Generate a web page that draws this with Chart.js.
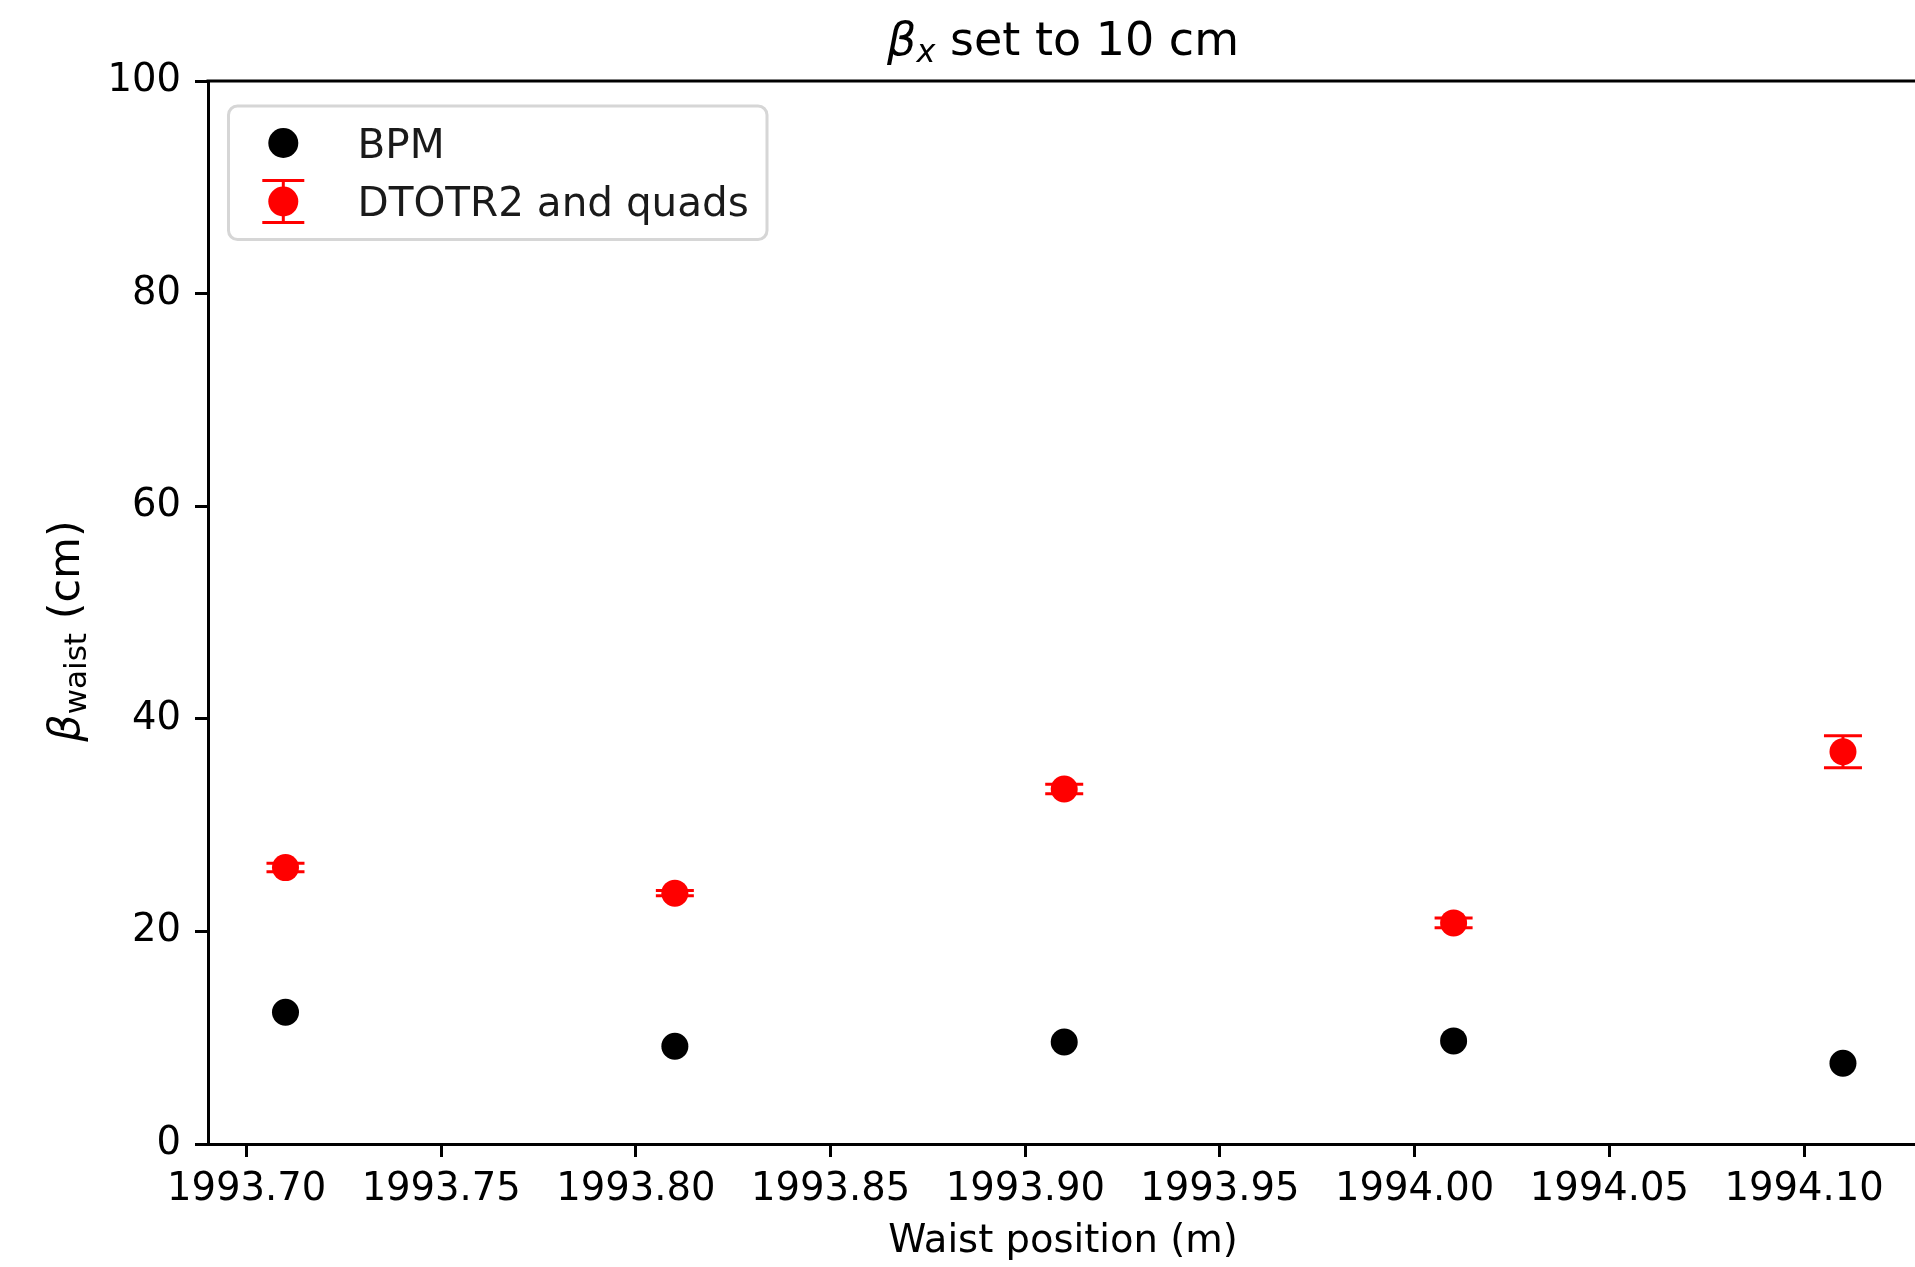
<!DOCTYPE html>
<html>
<head>
<meta charset="utf-8">
<script src="https://cdn.jsdelivr.net/npm/chart.js@4.4.1/dist/chart.umd.min.js"></script>
<style>
  html, body { margin: 0; padding: 0; background: #fff; }
  #wrap { width: 1915px; height: 1267px; }
</style>
</head>
<body>
<div id="wrap"><canvas id="waistChart" width="1915" height="1267"></canvas></div>
<script>
// waist position along the line (m)
var waistPos = [1993.71, 1993.81, 1993.91, 1994.01, 1994.11];
// beta at the waist (cm)
var bpmBeta = [12.4, 9.2, 9.6, 9.7, 7.6];
var otrBeta = [26.0, 23.6, 33.4, 20.8, 36.9];
var otrErr = [0.4, 0.25, 0.45, 0.45, 1.5];

var xTicks = [1993.70, 1993.75, 1993.80, 1993.85, 1993.90, 1993.95, 1994.00, 1994.05, 1994.10];
var yTicks = [0, 20, 40, 60, 80, 100];

var FAM = "'DejaVu Sans', sans-serif";

function toPoints(xs, ys) {
  return xs.map(function (x, i) { return { x: x, y: ys[i] }; });
}

// draw a row of text pieces with their own font / baseline shift
function drawRuns(ctx, runs, x, y) {
  runs.forEach(function (r) {
    ctx.font = r.font;
    ctx.fillText(r.text, x, y + (r.dy || 0));
    x += ctx.measureText(r.text).width;
  });
}
function runsWidth(ctx, runs) {
  var w = 0;
  runs.forEach(function (r) { ctx.font = r.font; w += ctx.measureText(r.text).width; });
  return w;
}

function errorGlyph(ctx, x, yTop, yBot, half, color) {
  ctx.save();
  ctx.strokeStyle = color;
  ctx.lineWidth = 3;
  ctx.beginPath();
  ctx.moveTo(x, yTop); ctx.lineTo(x, yBot);
  ctx.moveTo(x - half, yTop); ctx.lineTo(x + half, yTop);
  ctx.moveTo(x - half, yBot); ctx.lineTo(x + half, yBot);
  ctx.stroke();
  ctx.restore();
}

var decorations = {
  id: 'decorations',
  beforeDatasetsDraw: function (chart) {
    var ctx = chart.ctx, xs = chart.scales.x, ys = chart.scales.y;
    chart.data.datasets.forEach(function (ds) {
      if (!ds.errors) return;
      ds.data.forEach(function (p, i) {
        var px = xs.getPixelForValue(p.x);
        errorGlyph(ctx, px, ys.getPixelForValue(p.y + ds.errors[i]),
                   ys.getPixelForValue(p.y - ds.errors[i]), 19, ds.backgroundColor);
      });
    });
  },
  afterDraw: function (chart) {
    var ctx = chart.ctx, area = chart.chartArea;
    ctx.save();

    // top spine
    ctx.strokeStyle = '#000';
    ctx.lineWidth = 3;
    ctx.beginPath();
    ctx.moveTo(area.left - 1.5, area.top);
    ctx.lineTo(area.right, area.top);
    ctx.stroke();

    ctx.fillStyle = '#000';
    ctx.textBaseline = 'alphabetic';
    ctx.textAlign = 'left';

    // title
    var title = [
      { text: 'β', font: 'italic 46px ' + FAM },
      { text: 'x', font: 'italic 32px ' + FAM, dy: 7 },
      { text: ' set to 10 cm', font: '46px ' + FAM }
    ];
    drawRuns(ctx, title, 1063 - runsWidth(ctx, title) / 2, 55);

    // x axis label
    var xl = [{ text: 'Waist position (m)', font: '38.5px ' + FAM }];
    drawRuns(ctx, xl, 1063 - runsWidth(ctx, xl) / 2, 1252);

    // y axis label, rotated
    var yl = [
      { text: 'β', font: 'italic 43px ' + FAM },
      { text: 'waist', font: '31px ' + FAM, dy: 7 },
      { text: ' (cm)', font: '43px ' + FAM }
    ];
    ctx.save();
    ctx.translate(79, 631);
    ctx.rotate(-Math.PI / 2);
    drawRuns(ctx, yl, -runsWidth(ctx, yl) / 2, 0);
    ctx.restore();

    // legend
    var bx = 228.5, by = 106, bw = 538.5, bh = 133.5;
    ctx.beginPath();
    ctx.roundRect(bx, by, bw, bh, 9);
    ctx.fillStyle = 'rgba(255,255,255,0.8)';
    ctx.fill();
    ctx.strokeStyle = '#d6d6d6';
    ctx.lineWidth = 3;
    ctx.stroke();

    var rows = [143, 201.5];
    chart.data.datasets.forEach(function (ds, i) {
      var cy = rows[i];
      if (ds.errors) errorGlyph(ctx, 283.3, cy - 21, cy + 21, 21, ds.backgroundColor);
      ctx.beginPath();
      ctx.arc(283.3, cy, 15, 0, Math.PI * 2);
      ctx.fillStyle = ds.backgroundColor;
      ctx.fill();
      ctx.fillStyle = '#1a1a1a';
      ctx.font = '40.5px ' + FAM;
      ctx.fillText(ds.label, 357.5, cy + 14.5);
    });

    ctx.restore();
  }
};

function fixedTicks(list) {
  return function (scale) {
    scale.ticks = list.map(function (v) { return { value: v }; });
  };
}

var axisCommon = {
  border: { display: true, color: '#000', width: 3 },
  grid: {
    display: true, drawOnChartArea: false, drawTicks: true,
    tickLength: 13, tickWidth: 3, tickColor: '#000'
  }
};

new Chart(document.getElementById('waistChart'), {
  type: 'scatter',
  data: {
    datasets: [{
      label: 'BPM',
      data: toPoints(waistPos, bpmBeta),
      backgroundColor: '#000000',
      borderWidth: 0,
      pointRadius: 13.5,
      pointHoverRadius: 13.5
    }, {
      label: 'DTOTR2 and quads',
      data: toPoints(waistPos, otrBeta),
      errors: otrErr,
      backgroundColor: '#ff0000',
      borderWidth: 0,
      pointRadius: 13.5,
      pointHoverRadius: 13.5
    }]
  },
  options: {
    responsive: false,
    animation: false,
    devicePixelRatio: 1,
    events: [],
    layout: { autoPadding: false, padding: { top: 81, right: 0, bottom: 0, left: 0 } },
    plugins: {
      legend: { display: false },
      title: { display: false },
      tooltip: { enabled: false }
    },
    scales: {
      x: Object.assign({}, axisCommon, {
        type: 'linear',
        min: 1993.6901,
        max: 1994.1285,
        afterBuildTicks: fixedTicks(xTicks),
        afterFit: function (scale) {
          scale.height = 123;
          scale.paddingLeft = 0;
          scale.paddingRight = 0;
        },
        ticks: {
          autoSkip: false, maxRotation: 0, minRotation: 0, padding: 10,
          color: '#000', font: { family: FAM, size: 38.5 },
          callback: function (v) { return v.toFixed(2); }
        }
      }),
      y: Object.assign({}, axisCommon, {
        type: 'linear',
        min: 0,
        max: 100,
        afterBuildTicks: fixedTicks(yTicks),
        afterFit: function (scale) { scale.width = 208; },
        ticks: {
          padding: 14,
          color: '#000', font: { family: FAM, size: 38.5 },
          callback: function (v) { return String(v); }
        }
      })
    }
  },
  plugins: [decorations]
});
</script>
</body>
</html>
